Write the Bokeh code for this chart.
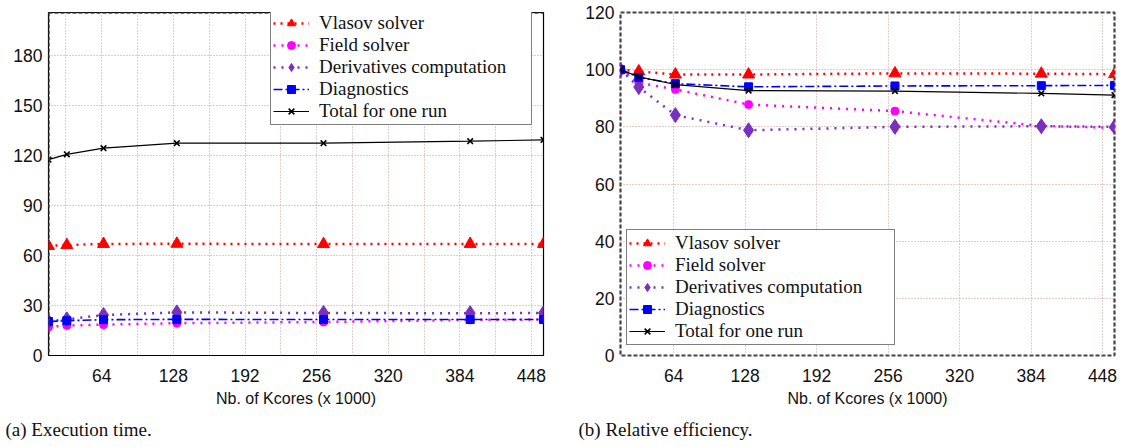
from bokeh.plotting import figure
from bokeh.layouts import row
from bokeh.models import Range1d, FixedTicker, Legend, LegendItem, Span, Title
from bokeh.embed import file_html
from bokeh.resources import INLINE

# Number of cores of each run, in thousands (2^14 ... 448*1024)
kcores = [16.384, 32.768, 65.536, 131.072, 262.144, 393.216, 458.752]
x_tick_values = [64, 128, 192, 256, 320, 384, 448]
x_minor_values = [32, 96, 160, 224, 288, 352, 416]

series_labels = ["Vlasov solver", "Field solver", "Derivatives computation",
                 "Diagnostics", "Total for one run"]

# (a) execution time
time_vlasov = [65.8, 66.3, 67.0, 67.1, 66.9, 67.0, 67.0]
time_field = [17.2, 18.0, 18.5, 19.4, 20.1, 21.4, 21.6]
time_derivatives = [20.4, 21.7, 24.3, 25.9, 25.5, 25.4, 25.5]
time_diagnostics = [20.4, 20.9, 21.5, 21.7, 21.6, 21.6, 21.6]
time_total = [117.6, 120.8, 124.5, 127.5, 127.5, 128.7, 129.5]
time_ticks = [0, 30, 60, 90, 120, 150, 180]
time_max = 206

# (b) relative efficiency (%)
eff_vlasov = [100, 99.4, 98.3, 98.3, 98.7, 98.6, 98.4]
eff_field = [100, 95.4, 93.1, 87.8, 85.5, 80.3, 79.7]
eff_derivatives = [100, 93.9, 84.1, 78.8, 80.0, 80.2, 80.0]
eff_diagnostics = [100, 97.3, 95.1, 94.0, 94.3, 94.4, 94.5]
eff_total = [100, 97.5, 94.8, 92.7, 92.5, 91.7, 91.1]
eff_ticks = [0, 20, 40, 60, 80, 100, 120]
eff_max = 120

STYLES = [
    dict(color="#ff0000", marker="triangle", size=12, dash="2 5", width=2.5),
    dict(color="#ff00ff", marker="circle", size=8, dash="2 6", width=2.5),
    dict(color="#7b2fbe", marker="diamond", size=15, dash="2 6", width=2.5),
    dict(color="#0000ff", marker="square", size=8, dash="9 3 2 3", width=1.6),
    dict(color="#000000", marker="x", size=8, dash="solid", width=1.2),
]

GRID = "#c49a9a"
SANS = "Liberation Sans"
SERIF = "Liberation Serif"


def make_panel(values, y_max, y_ticks, width, borders, legend_xy, legend_w,
               caption, caption_x, minor_grid, dashed_outline):
    left, right, top, bottom = borders
    p = figure(width=width, height=447,
               x_range=Range1d(kcores[0], kcores[-1]),
               y_range=Range1d(0, y_max),
               output_backend="svg", toolbar_location=None,
               min_border_left=left, min_border_right=right,
               min_border_top=top, min_border_bottom=bottom)
    p.background_fill_color = "white"
    p.border_fill_color = "white"

    # axes
    p.xaxis.ticker = FixedTicker(ticks=x_tick_values, minor_ticks=x_minor_values)
    p.yaxis.ticker = FixedTicker(ticks=y_ticks)
    p.xaxis.axis_label = "Nb. of Kcores (x 1000)"
    for ax in (p.xaxis[0], p.yaxis[0]):
        ax.axis_line_color = None
        ax.major_tick_out = 0
        ax.minor_tick_out = 0
        ax.major_tick_in = 0
        ax.minor_tick_in = 0
        ax.major_label_text_font = SANS
        ax.major_label_text_font_size = "17.5px"
        ax.major_label_text_color = "#111111"
    p.xaxis.major_label_standoff = 13
    p.yaxis.major_label_standoff = 6
    p.xaxis.axis_label_text_font = SANS
    p.xaxis.axis_label_text_font_size = "16px"
    p.xaxis.axis_label_text_font_style = "normal"
    p.xaxis.axis_label_text_color = "#111111"
    p.xaxis.axis_label_standoff = 5

    # grid
    for g in (p.xgrid[0], p.ygrid[0]):
        g.grid_line_color = GRID
        g.grid_line_dash = "1 2"
        g.grid_line_width = 1
    if minor_grid:
        p.xgrid.minor_grid_line_color = GRID
        p.xgrid.minor_grid_line_dash = "1 2"
        p.xgrid.minor_grid_line_width = 1

    # frame
    if dashed_outline:
        p.outline_line_color = "#444444"
        p.outline_line_dash = "4 2"
        p.outline_line_width = 2.2
    else:
        p.outline_line_color = "#000000"
        p.outline_line_width = 1.2
        p.add_layout(Span(location=kcores[0], dimension="height",
                          line_color="#444444", line_dash="4 2", line_width=2.5))
        p.add_layout(Span(location=y_max, dimension="width",
                          line_color="#444444", line_dash="4 2", line_width=2.5))

    # series
    items = []
    for label, ys, st in zip(series_labels, values, STYLES):
        ln = p.line(kcores, ys, line_color=st["color"], line_dash=st["dash"],
                    line_width=st["width"])
        if st["marker"] == "x":
            mk = p.scatter(kcores, ys, marker="x", size=st["size"],
                           line_color=st["color"], line_width=1.6)
        else:
            mk = p.scatter(kcores, ys, marker=st["marker"], size=st["size"],
                           fill_color=st["color"], line_color=st["color"])
        items.append(LegendItem(label=label, renderers=[ln, mk]))

    glyph_w, standoff, pad = 36, 10, 2
    legend = Legend(items=items, location=legend_xy)
    legend.label_text_font = SERIF
    legend.label_text_font_size = "19px"
    legend.label_text_color = "#111111"
    legend.label_height = 21
    legend.glyph_height = 20
    legend.glyph_width = glyph_w
    legend.label_standoff = standoff
    legend.label_width = legend_w - 2 * pad - glyph_w - standoff
    legend.spacing = 0
    legend.padding = pad
    legend.margin = 0
    legend.border_line_color = "#000000"
    legend.border_line_width = 1.2
    legend.background_fill_color = "white"
    legend.background_fill_alpha = 1.0
    p.add_layout(legend)

    p.add_layout(Title(text=caption, align="left", offset=caption_x,
                       text_font=SERIF, text_font_size="19px",
                       text_font_style="normal", text_color="#111111",
                       standoff=15), "below")
    return p


left = make_panel([time_vlasov, time_field, time_derivatives, time_diagnostics, time_total],
                  time_max, time_ticks, 560, (48, 17, 12, 90), (222, 230), 260,
                  "(a) Execution time.", -43, True, False)
right = make_panel([eff_vlasov, eff_field, eff_derivatives, eff_diagnostics, eff_total],
                   eff_max, eff_ticks, 561, (60, 7, 10, 92), (6, 10), 267,
                   "(b) Relative efficiency.", -42, False, True)

layout = row(left, right)
open("out.html", "w").write(file_html(layout, INLINE))
